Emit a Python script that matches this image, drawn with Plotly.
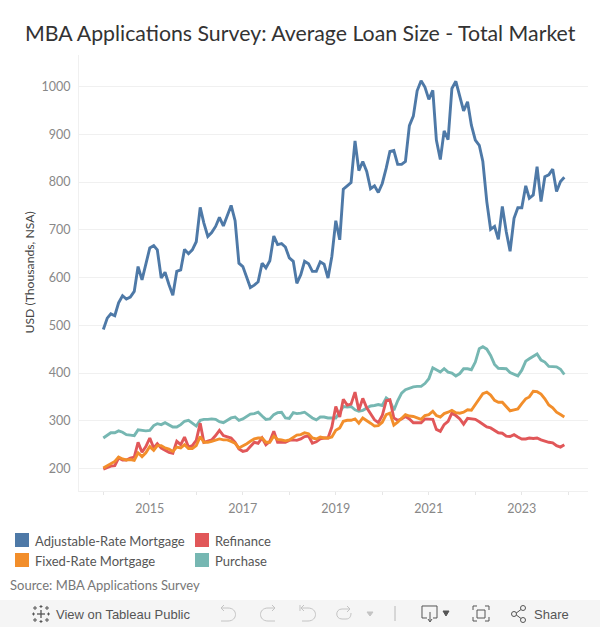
import plotly.graph_objects as go
import pandas as pd

dates = pd.date_range("2014-01-01", periods=120, freq="MS")

arm = [491,515,524,520,547,562,555,559,571,623,595,627,662,667,658,599,611,585,563,613,616,659,650,658,675,747,714,686,694,707,726,708,728,751,719,630,623,602,579,584,591,630,620,635,687,669,671,664,641,634,588,606,634,629,613,613,633,628,599,644,719,679,785,792,799,886,824,843,822,786,792,778,797,829,864,866,837,837,843,918,938,991,1012,999,973,992,888,847,907,889,996,1011,982,949,968,919,888,877,843,759,701,707,680,749,696,655,724,746,746,792,766,773,832,759,811,815,827,780,801,810]
refi = [199,203,205,206,222,218,218,222,224,255,234,246,264,243,252,243,239,234,232,257,250,266,245,248,259,295,255,257,260,269,280,269,267,264,255,241,236,238,246,255,253,264,250,257,278,255,255,255,259,260,259,262,267,268,253,256,262,264,264,287,330,308,345,333,335,360,322,347,327,315,302,296,311,342,344,306,301,304,309,304,296,296,296,304,303,303,282,278,292,299,316,311,304,293,305,304,303,298,292,287,285,280,275,274,268,267,271,266,262,262,264,263,264,260,257,255,254,248,245,250]
frm = [201,206,211,215,224,220,218,219,217,233,225,233,246,238,248,248,243,241,236,245,243,250,242,242,248,267,255,255,257,260,262,260,260,257,253,243,247,252,257,262,264,264,255,255,268,261,260,258,260,266,270,271,275,273,264,262,266,264,264,266,280,285,299,301,301,304,295,306,301,295,289,290,297,313,316,291,297,306,313,310,309,306,303,311,313,320,311,308,315,318,322,317,316,318,323,322,335,348,357,360,354,343,339,339,330,321,323,325,336,346,350,362,361,356,346,333,327,318,313,308]
purchase = [264,269,275,275,279,276,271,270,269,281,280,279,280,290,294,292,296,291,287,287,292,299,301,295,289,301,303,303,304,303,298,296,302,306,308,301,304,309,314,315,318,310,303,304,313,317,318,306,305,317,315,316,318,312,306,302,308,308,306,306,306,318,330,329,330,323,320,322,327,331,332,334,332,348,342,322,342,358,365,368,371,372,372,378,388,411,406,402,409,402,400,394,399,409,409,407,423,451,455,450,437,418,410,410,409,401,397,394,406,425,430,435,440,427,423,414,414,413,408,397]

series_names = ["Adjustable-Rate Mortgage", "Purchase", "Refinance", "Fixed-Rate Mortgage"]
series_values = [arm, purchase, refi, frm]
series_colors = ["#4e79a7", "#76b7b2", "#e15759", "#f28e2b"]
y_ticks = [200, 300, 400, 500, 600, 700, 800, 900, 1000]
x_ticks = ["2014-01-01","2015-01-01","2016-01-01","2017-01-01","2018-01-01","2019-01-01","2020-01-01","2021-01-01","2022-01-01","2023-01-01","2024-01-01"]
x_labels = ["","2015","","2017","","2019","","2021","","2023",""]
FONT = "Lato"

fig = go.Figure()
for n, v, c in zip(series_names, series_values, series_colors):
    fig.add_trace(go.Scatter(x=dates, y=v, name=n, mode="lines", showlegend=False,
                             line=dict(color=c, width=2.9, shape="linear"),
                             hovertemplate="%{x|%b %Y}: %{y}<extra>"+n+"</extra>"))

W, H = 600, 627
L, R, T, B = 79, 588, 55, 491
px = lambda x: (x - L) / (R - L)
py = lambda y: (B - y) / (B - T)
shapes, notes = [], []
def rect(x0, y0, x1, y1, fill, line=None, w=1):
    shapes.append(dict(type="rect", xref="paper", yref="paper", x0=px(x0), x1=px(x1), y0=py(y1), y1=py(y0),
                       fillcolor=fill, line=dict(width=w if line else 0, color=line or fill), layer="above"))
def text(x, y, s, size, color, anchor="left", angle=0, family=FONT):
    notes.append(dict(xref="paper", yref="paper", x=px(x), y=py(y), text=s, showarrow=False, xanchor=anchor, yanchor="middle",
                      textangle=angle, font=dict(family=family, size=size, color=color)))
def poly(points, color, w=1.0, fill=None, close=False):
    d = "M " + " L ".join(f"{px(x):.5f},{py(y):.5f}" for x, y in points) + (" Z" if close else "")
    shapes.append(dict(type="path", xref="paper", yref="paper", path=d, line=dict(color=color, width=w),
                       fillcolor=fill or "rgba(0,0,0,0)"))
def curve(x0, y0, cx0, cy0, cx1, cy1, x1, y1, color, w=1.0):
    d = f"M {px(x0):.5f},{py(y0):.5f} C {px(cx0):.5f},{py(cy0):.5f} {px(cx1):.5f},{py(cy1):.5f} {px(x1):.5f},{py(y1):.5f}"
    shapes.append(dict(type="path", xref="paper", yref="paper", path=d, line=dict(color=color, width=w)))
def circle(cx, cy, r, color, fill):
    shapes.append(dict(type="circle", xref="paper", yref="paper", x0=px(cx-r), x1=px(cx+r), y0=py(cy+r), y1=py(cy-r),
                       fillcolor=fill, line=dict(color=color, width=1)))

text(300, 33, "MBA Applications Survey: Average Loan Size - Total Market", 21.3, "#333333", "center")
text(29, 272.5, "USD (Thousands, NSA)", 12.2, "#444444", "center", -90)

legend = [(15, 540, 0), (195, 540, 2), (15, 560, 3), (195, 560, 1)]
for x, y, i in legend:
    rect(x, y - 7, x + 14, y + 7, series_colors[i])
    text(x + 17.5, y + 1, series_names[i], 13, "#555555")
text(7.5, 585, "Source: MBA Applications Survey", 13, "#777777")

# Toolbar
TB = "#f5f5f5"
rect(0, 600, 600, 627, TB)
ICON, DIM = "#555555", "#c4c4c4"
text(53.5, 614, "View on Tableau Public", 13, "#555555", family="Liberation Sans")
text(531.5, 614, "Share", 13, "#555555", family="Liberation Sans")
# Tableau glyph
for cx, cy, a, lw in [(41, 614, 4, 1.3), (35, 608, 2, 1), (47, 608, 2, 1), (35, 620, 2, 1), (47, 620, 2, 1),
                      (41, 606.5, 1.5, 1), (41, 621.5, 1.5, 1), (33.5, 614, 1.5, 1), (48.5, 614, 1.5, 1)]:
    poly([(cx - a, cy), (cx + a, cy)], ICON, lw)
    poly([(cx, cy - a), (cx, cy + a)], ICON, lw)
# Undo, redo, revert, refresh
poly([(224, 605), (221, 608), (224, 611)], DIM)
poly([(221, 608), (228, 608)], DIM)
curve(228, 608, 238, 608, 238, 621, 228, 621, DIM); poly([(228, 621), (221, 621)], DIM)
poly([(272, 605), (275, 608), (272, 611)], DIM)
poly([(275, 608), (268, 608)], DIM)
curve(268, 608, 258, 608, 258, 621, 268, 621, DIM); poly([(268, 621), (275, 621)], DIM)
poly([(300, 605), (300, 611)], DIM)
poly([(304, 605), (301, 608), (304, 611)], DIM)
poly([(301, 608), (308, 608)], DIM)
curve(308, 608, 318, 608, 318, 621, 308, 621, DIM); poly([(308, 621), (302, 621)], DIM)
poly([(342, 609), (349, 609)], DIM); poly([(347, 606), (350, 609), (347, 612)], DIM)
curve(342, 609, 335, 609, 335, 619, 342, 619, DIM)
poly([(342, 619), (346, 619)], DIM); curve(346, 619, 350, 619, 351, 616, 351, 613, DIM)
poly([(367, 612), (373, 612), (370, 616)], DIM, 1, DIM, True)
poly([(395, 606), (395, 621)], "#b8b8b8")
# Download
poly([(427, 618), (422, 618), (422, 606), (437, 606), (437, 618), (433, 618)], ICON)
poly([(430, 612), (430, 621)], ICON); poly([(428, 619), (430, 622), (432, 619)], ICON)
poly([(443, 611), (449, 611), (446, 616)], ICON, 1, ICON, True)
# Fullscreen
rect(477, 610, 485, 618, "rgba(0,0,0,0)", ICON)
for pts in [[(473, 610), (473, 606), (477, 606)], [(485, 606), (489, 606), (489, 610)],
            [(473, 617), (473, 621), (477, 621)], [(485, 621), (489, 621), (489, 617)]]:
    poly(pts, ICON)
# Share icon
poly([(515, 614), (523, 608)], ICON); poly([(515, 614), (523, 620)], ICON)
for cx, cy in [(514, 614), (523, 608), (523, 620)]:
    circle(cx, cy, 2.5, ICON, TB)

fig.update_layout(
    width=W, height=H, margin=dict(l=L, r=W - R, t=T, b=H - B, pad=0, autoexpand=False),
    plot_bgcolor="white", paper_bgcolor="white", showlegend=False,
    font=dict(family=FONT, color="#888888", size=12.5), shapes=shapes, annotations=notes,
    xaxis=dict(type="date", range=["2013-06-24", "2024-06-04"], tickmode="array", tickvals=x_ticks, ticktext=x_labels,
               showgrid=False, zeroline=False, showline=True, linecolor="#f0f0f0", linewidth=1,
               ticks="outside", ticklen=3, tickcolor="#e6e6e6", ticklabelstandoff=3, tickfont=dict(size=12.5, color="#888888")),
    yaxis=dict(range=[153, 1066], tickmode="array", tickvals=y_ticks, gridcolor="#f0f0f0", gridwidth=1,
               zeroline=False, showline=True, linecolor="#f0f0f0", linewidth=1, ticks="outside", ticklen=5, tickcolor="rgba(0,0,0,0)",
               tickfont=dict(size=12.5, color="#888888")),
)
fig.write_html("out.html", post_script="document.body.style.margin='0';", config=dict(displayModeBar=False))
